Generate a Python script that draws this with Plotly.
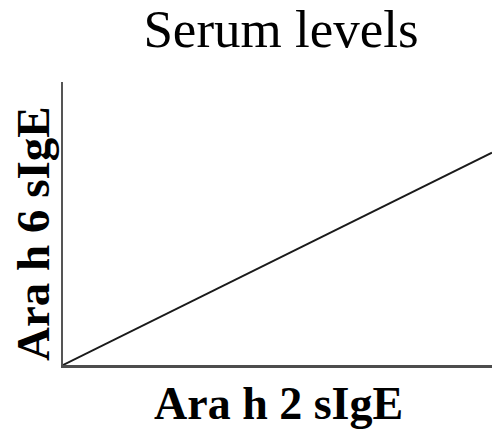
import plotly.graph_objects as go

# Relationship of the two serum sIgE levels (schematic, unitless)
ara_h2_sige = [0, 10]
ara_h6_sige = [0, 7.5]

title_text = "Serum levels"
x_label = "Ara h 2 sIgE"
y_label = "Ara h 6 sIgE"

fig = go.Figure()
fig.add_trace(go.Scatter(
    x=ara_h2_sige, y=ara_h6_sige, mode="lines",
    line=dict(color="#1a1a1a", width=2), hoverinfo="skip", showlegend=False,
))

serif = "Liberation Serif, Times New Roman, serif"

fig.update_layout(
    width=495, height=429,
    margin=dict(l=63, r=3, t=82, b=64),
    paper_bgcolor="white", plot_bgcolor="white",
    title=dict(text=title_text, x=281 / 495, xanchor="center",
               y=1 - 28 / 429, yanchor="middle",
               font=dict(family=serif, size=53, color="black")),
    xaxis=dict(range=[0, 10], showgrid=False, zeroline=False,
               showticklabels=False, ticks="", showline=True,
               linecolor="#4d4d4d", linewidth=2.5),
    yaxis=dict(range=[0, 10], showgrid=False, zeroline=False,
               showticklabels=False, ticks="", showline=True,
               linecolor="#555555", linewidth=1.5),
    annotations=[
        dict(text=f"<b>{x_label}</b>", xref="paper", yref="paper",
             x=(278 - 63) / 429, y=(365 - 403) / 283,
             xanchor="center", yanchor="middle", showarrow=False,
             font=dict(family=serif, size=46, color="black")),
        dict(text=f"<b>{y_label}</b>", xref="paper", yref="paper",
             x=(33 - 63) / 429, y=(365 - 234) / 283, textangle=-90,
             xanchor="center", yanchor="middle", showarrow=False,
             font=dict(family=serif, size=47, color="black")),
    ],
)

fig.write_html("out.html")
